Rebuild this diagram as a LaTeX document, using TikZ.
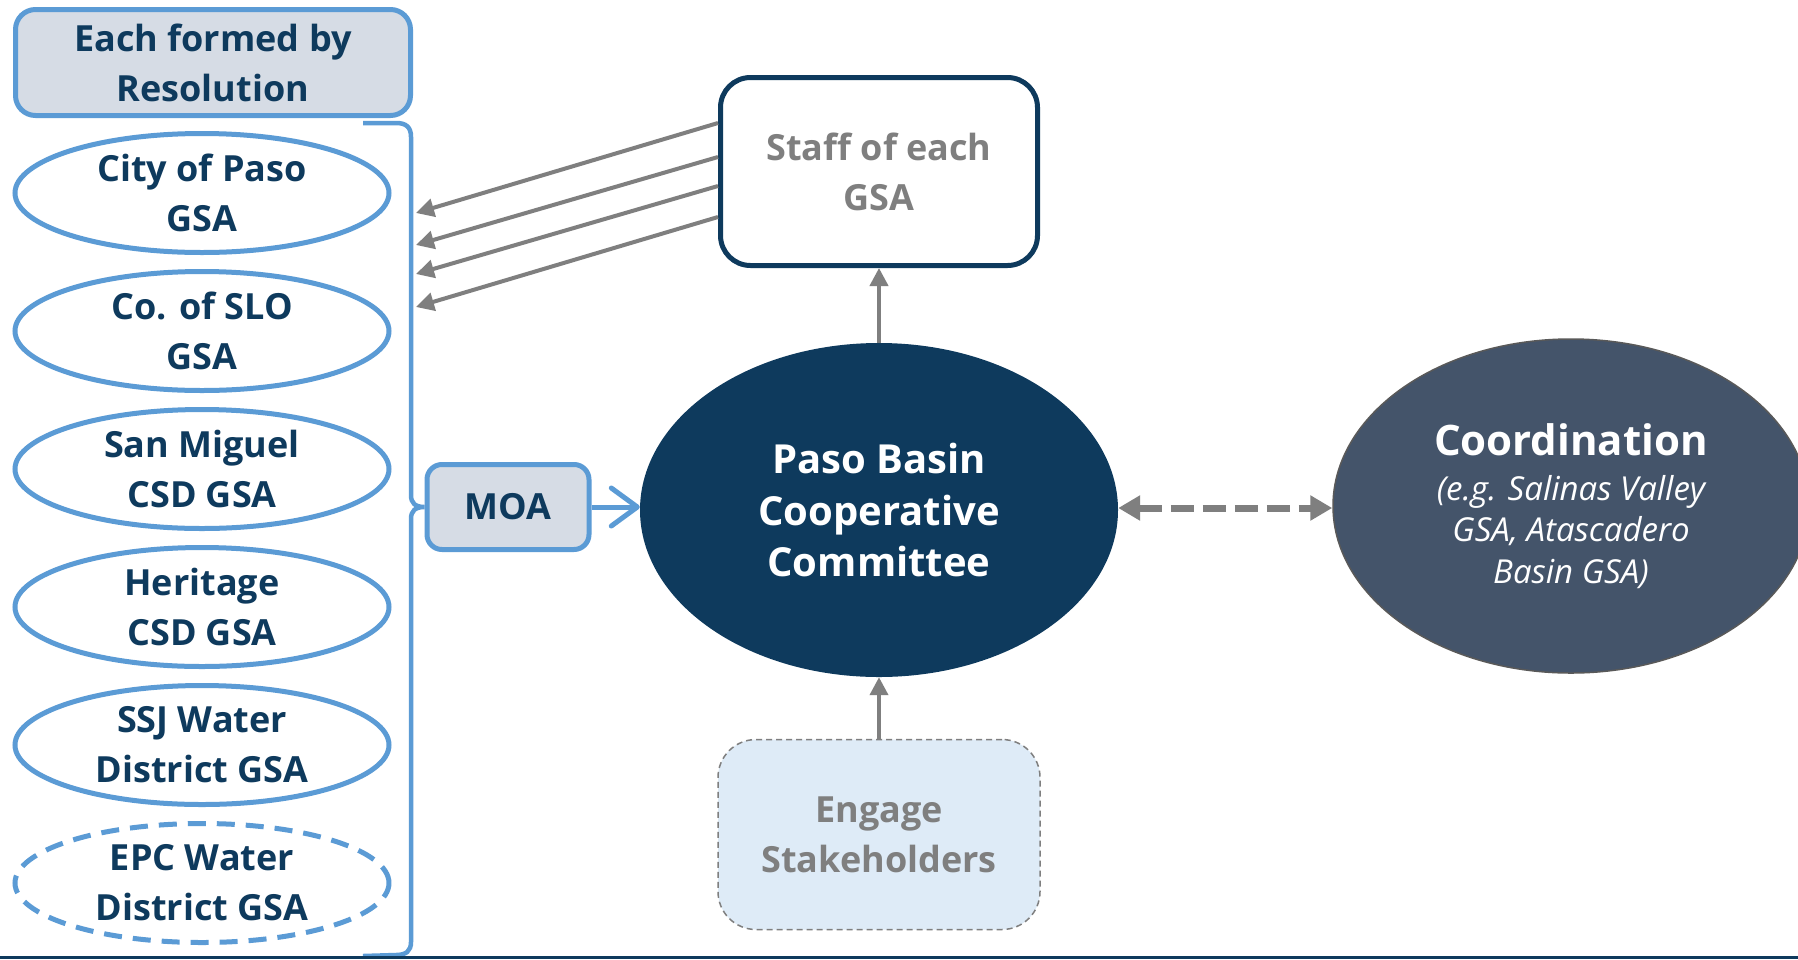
\documentclass[tikz,border=0pt]{standalone}
\usepackage{fontspec}
\setmainfont{Open Sans}
\usetikzlibrary{shapes.geometric,arrows.meta}
\definecolor{navy}{HTML}{0E3A5D}
\definecolor{lblue}{HTML}{5B9BD5}
\definecolor{lfill}{HTML}{D6DCE5}
\definecolor{efill}{HTML}{DEEBF7}
\definecolor{gr}{HTML}{7F7F7F}
\definecolor{slate}{HTML}{44546A}
\definecolor{slateline}{HTML}{595959}
\tikzset{
  gsa/.style={ellipse, draw=lblue, line width=5pt, fill=white,
    minimum width=374pt, minimum height=119pt, inner sep=-6pt,
    text=navy, font=\fontsize{36}{50}\selectfont\bfseries, align=center},
  bluebox/.style={draw=lblue, fill=lfill, line width=5pt, text=navy,
    font=\fontsize{36}{50}\selectfont\bfseries, align=center, inner sep=0pt},
  garrow/.style={draw=gr, line width=4pt, -{Triangle[length=18pt,width=18pt]}},
  darrow/.style={draw=gr, line width=7pt, dash pattern=on 23pt off 9pt,
    {Triangle[length=22pt,width=24pt]}-{Triangle[length=22pt,width=24pt]}},
  moaarrow/.style={draw=lblue, line width=5pt, -{Straight Barb[length=26pt,width=38pt,round]}},
  bracket/.style={draw=lblue, line width=4.5pt},
}
\begin{document}
\begin{tikzpicture}[x=1pt,y=-1pt]
\useasboundingbox (0,0) rectangle (1798,959);
\clip (0,0) rectangle (1798,959);
\fill[white] (0,0) rectangle (1798,959);

% left column
\node[bluebox, rounded corners=20pt, minimum width=395pt, minimum height=106pt] (each) at (213,62.5) {Each formed by\\Resolution};
\node[gsa] (g1) at (202,193) {City of Paso\\GSA};
\node[gsa] (g2) at (202,331) {Co. of SLO\\GSA};
\node[gsa] (g3) at (202,469) {San Miguel\\CSD GSA};
\node[gsa] (g4) at (202,607) {Heritage\\CSD GSA};
\node[gsa] (g5) at (202,745) {SSJ Water\\District GSA};
\node[gsa, dash pattern=on 18pt off 11pt] (g6) at (202,883) {EPC Water\\District GSA};

% MOA
\node[bluebox, rounded corners=15pt, minimum width=162pt, minimum height=85pt] (moa) at (508,507) {MOA};

% bracket
\draw[bracket] (363,123) -- (396,123) .. controls (406,123) and (411,127) .. (411,137)
  -- (411,495) .. controls (411,503) and (415,507) .. (moa.west)
  .. controls (415,507) and (411,511) .. (411,519)
  -- (411,942) .. controls (411,951) and (406,955) .. (396,955) -- (363,956);

% main
\node[ellipse, fill=navy, minimum width=478pt, minimum height=334pt, inner sep=0pt,
  text=white, font=\fontsize{40}{51.5}\selectfont\bfseries, align=center] (main) at (879,510)
  {Paso Basin\\Cooperative\\Committee};

% staff
\node[draw=navy, line width=5pt, rounded corners=30pt, fill=white, minimum width=317pt,
  minimum height=188pt, text=gr, font=\fontsize{36}{50}\selectfont\bfseries, align=center] (staff)
  at (879,171.5) {Staff of each\\GSA};

% engage
\node[draw=gr, line width=1.5pt, dash pattern=on 6pt off 4pt, fill=efill, rounded corners=38pt,
  minimum width=322pt, minimum height=190pt, text=gr, font=\fontsize{36}{50}\selectfont\bfseries,
  align=center] (eng) at (879,834.5) {Engage\\Stakeholders};

% coordination
\node[ellipse, draw=slateline, line width=1.5pt, fill=slate, minimum width=476pt, minimum height=334pt,
  inner sep=0pt, text=white, align=center, font=\fontsize{33}{41.5}\selectfont\itshape] (coord) at (1571,506)
  {{\fontsize{42}{44}\selectfont\bfseries\upshape Coordination}\\[3pt](e.g. Salinas Valley\\GSA, Atascadero\\Basin GSA)};

% connectors
\coordinate (b1) at (416,213);
\coordinate (b2) at (416,245);
\coordinate (b3) at (416,274);
\coordinate (b4) at (416,307);
\draw[garrow] ([yshift=48.5pt]staff.west) -- (b1);
\draw[garrow] ([yshift=14.5pt]staff.west) -- (b2);
\draw[garrow] ([yshift=-14.5pt]staff.west) -- (b3);
\draw[garrow] ([yshift=-45.5pt]staff.west) -- (b4);
\draw[garrow] (main.north) -- (staff.south);
\draw[garrow] (eng.north) -- (main.south);
\draw[moaarrow] (moa.east) -- (moa.east -| main.west);
\draw[darrow] ([yshift=2pt]main.east) -- ([yshift=-2pt]coord.west);

% bottom strip
\fill[navy] (0,956) rectangle (1798,959);
\end{tikzpicture}
\end{document}
